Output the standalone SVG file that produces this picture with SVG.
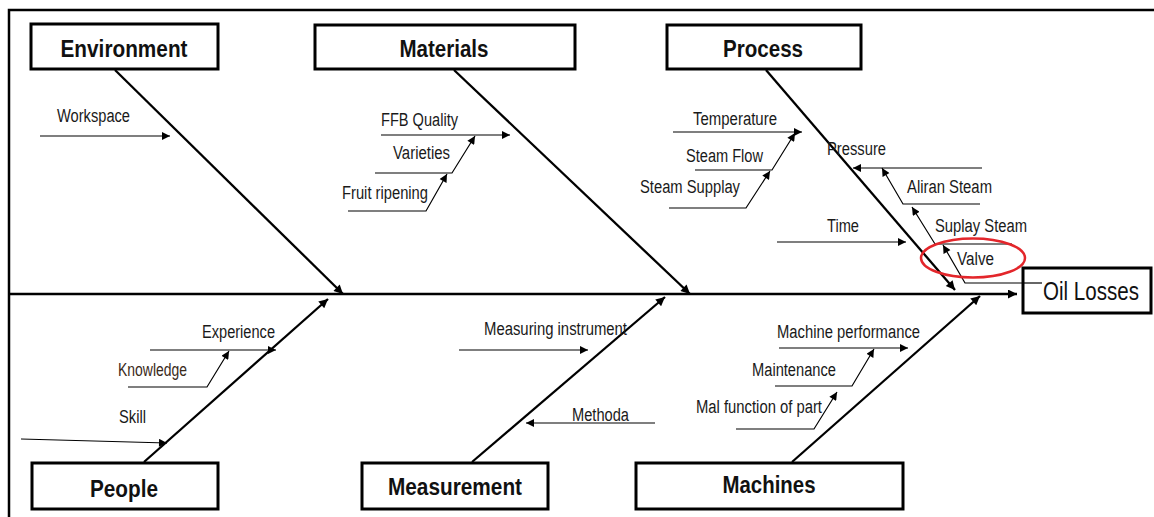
<svg xmlns="http://www.w3.org/2000/svg" width="1154" height="517" viewBox="0 0 1154 517">
<style>
.box{fill:#fff;stroke:#000;stroke-width:3}
.title{font-family:"Liberation Sans",Arial,sans-serif;font-weight:bold;font-size:23.5px;fill:#111;text-anchor:middle}
.lbl{font-family:"Liberation Sans",Arial,sans-serif;font-size:18px;fill:#1a1a1a}
.bone{stroke:#000;stroke-width:2.3;fill:none;marker-end:url(#big)}
.sub{stroke:#000;stroke-width:1.2;fill:none;marker-end:url(#small)}
.frame{stroke:#000;stroke-width:2.5;fill:none}
</style>
<defs>
<marker id="big" viewBox="0 0 10 10" refX="10" refY="5" markerWidth="13" markerHeight="9" markerUnits="userSpaceOnUse" orient="auto"><path d="M0,0 L10,5 L0,10 z" fill="#000"/></marker>
<marker id="small" viewBox="0 0 10 10" refX="10" refY="5" markerWidth="11" markerHeight="8" markerUnits="userSpaceOnUse" orient="auto"><path d="M0,0 L10,5 L0,10 z" fill="#000"/></marker>
</defs>
<rect x="0" y="0" width="1154" height="517" fill="#fff"/>
<path class="frame" d="M1154,10 H9 V517"/>

<g id="connectors">
<line class="bone" x1="9" y1="294" x2="1017" y2="294"/>
<line class="bone" x1="115" y1="70" x2="343" y2="294"/>
<line class="bone" x1="454" y1="70" x2="690" y2="294"/>
<line class="bone" x1="766" y1="70" x2="955" y2="290"/>
<line class="bone" x1="144" y1="462" x2="328" y2="299"/>
<line class="bone" x1="472" y1="462" x2="665" y2="297"/>
<line class="bone" x1="792" y1="462" x2="980" y2="296"/>

<line class="sub" x1="40" y1="136" x2="170" y2="136"/>
<line class="sub" x1="381" y1="135" x2="510" y2="135"/>
<polyline class="sub" points="375,173 452,173 475,136"/>
<polyline class="sub" points="348,211 426,211 447,174"/>
<line class="sub" x1="673" y1="132" x2="802" y2="132"/>
<polyline class="sub" points="695,170 772,170 795,133"/>
<polyline class="sub" points="669,208 746,208 770,171"/>
<line class="sub" x1="982" y1="168" x2="853" y2="168"/>
<polyline class="sub" points="980,204 903,204 882,168"/>
<polyline class="sub" points="1012,244 935,244 912,207"/>
<polyline class="sub" points="1042,283 965,283 943,245"/>
<line class="sub" x1="777" y1="242" x2="906" y2="242"/>

<line class="sub" x1="150" y1="350" x2="276" y2="350"/>
<polyline class="sub" points="128,387 207,387 229,351"/>
<line class="sub" x1="21" y1="439" x2="167" y2="443"/>
<line class="sub" x1="459" y1="350" x2="588" y2="350"/>
<line class="sub" x1="655" y1="423" x2="526" y2="423"/>
<line class="sub" x1="779" y1="348" x2="908" y2="348"/>
<polyline class="sub" points="775,386 852,386 874,349"/>
<polyline class="sub" points="736,429 814,429 837,392"/>
</g>

<g id="environment"><rect class="box" x="31" y="24" width="187" height="45"/><text class="title" x="124" y="57" textLength="127" lengthAdjust="spacingAndGlyphs">Environment</text></g>
<g id="materials"><rect class="box" x="315" y="25" width="260" height="44"/><text class="title" x="444" y="57" textLength="89" lengthAdjust="spacingAndGlyphs">Materials</text></g>
<g id="process"><rect class="box" x="667" y="25" width="194" height="44"/><text class="title" x="763" y="57" textLength="80" lengthAdjust="spacingAndGlyphs">Process</text></g>
<g id="people"><rect class="box" x="32" y="463" width="186" height="46"/><text class="title" x="124" y="497" textLength="68" lengthAdjust="spacingAndGlyphs">People</text></g>
<g id="measurement"><rect class="box" x="362" y="463" width="186" height="46"/><text class="title" x="455" y="495" textLength="134" lengthAdjust="spacingAndGlyphs">Measurement</text></g>
<g id="machines"><rect class="box" x="636" y="463" width="267" height="46"/><text class="title" x="769" y="493" textLength="93" lengthAdjust="spacingAndGlyphs">Machines</text></g>
<g id="oil-losses"><rect class="box" x="1023" y="268" width="128" height="45"/><text x="1043" y="300" textLength="96" lengthAdjust="spacingAndGlyphs" style="font-family:'Liberation Sans',Arial,sans-serif;font-size:25px;fill:#111">Oil Losses</text></g>
<line x1="1023" y1="283" x2="1042" y2="283" stroke="#000" stroke-width="1.2"/>

<g id="causes">
<text class="lbl" x="57" y="122" textLength="73" lengthAdjust="spacingAndGlyphs">Workspace</text>
<text class="lbl" x="381" y="126" textLength="77" lengthAdjust="spacingAndGlyphs">FFB Quality</text>
<text class="lbl" x="393" y="159" textLength="57" lengthAdjust="spacingAndGlyphs">Varieties</text>
<text class="lbl" x="342" y="199" textLength="86" lengthAdjust="spacingAndGlyphs">Fruit ripening</text>
<text class="lbl" x="693" y="125" textLength="84" lengthAdjust="spacingAndGlyphs">Temperature</text>
<text class="lbl" x="686" y="162" textLength="77" lengthAdjust="spacingAndGlyphs">Steam Flow</text>
<text class="lbl" x="640" y="193" textLength="100" lengthAdjust="spacingAndGlyphs">Steam Supplay</text>
<text class="lbl" x="827" y="155" textLength="59" lengthAdjust="spacingAndGlyphs">Pressure</text>
<text class="lbl" x="907" y="193" textLength="85" lengthAdjust="spacingAndGlyphs">Aliran Steam</text>
<text class="lbl" x="935" y="232" textLength="92" lengthAdjust="spacingAndGlyphs">Suplay Steam</text>
<text class="lbl" x="957" y="265" textLength="37" lengthAdjust="spacingAndGlyphs">Valve</text>
<text class="lbl" x="827" y="232" textLength="32" lengthAdjust="spacingAndGlyphs">Time</text>
<text class="lbl" x="202" y="338" textLength="73" lengthAdjust="spacingAndGlyphs">Experience</text>
<text class="lbl" x="118" y="376" textLength="69" lengthAdjust="spacingAndGlyphs" style="fill:#3a2a1a">Knowledge</text>
<text class="lbl" x="119" y="423" textLength="27" lengthAdjust="spacingAndGlyphs">Skill</text>
<text class="lbl" x="484" y="335" textLength="143" lengthAdjust="spacingAndGlyphs">Measuring instrument</text>
<text class="lbl" x="572" y="421" textLength="57" lengthAdjust="spacingAndGlyphs">Methoda</text>
<text class="lbl" x="777" y="338" textLength="143" lengthAdjust="spacingAndGlyphs">Machine performance</text>
<text class="lbl" x="752" y="376" textLength="84" lengthAdjust="spacingAndGlyphs">Maintenance</text>
<text class="lbl" x="696" y="413" textLength="126" lengthAdjust="spacingAndGlyphs">Mal function of part</text>
</g>

<ellipse cx="973" cy="258" rx="52" ry="19.5" fill="none" stroke="#e3262b" stroke-width="2.5"/>
</svg>
